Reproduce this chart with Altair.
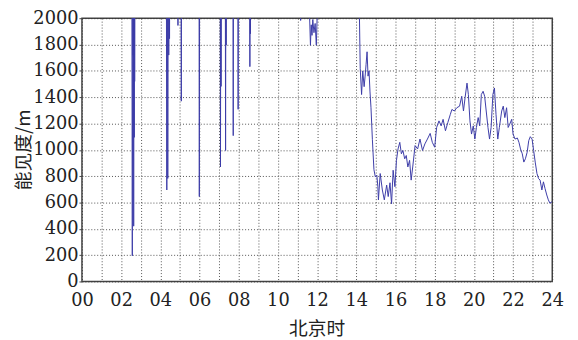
import altair as alt
import pandas as pd

HIGH = 3000  # values above the 2000 m axis limit (clipped)

hours = [
    0.0,
    2.54, 2.57, 2.60, 2.61, 2.62, 2.64, 2.66, 2.67, 2.68, 2.69, 2.71,
    4.30, 4.33, 4.36, 4.38, 4.41, 4.43, 4.45, 4.47, 4.49, 4.51,
    4.88, 4.90, 4.92, 5.05, 5.07, 5.09,
    5.97, 5.99, 6.01,
    7.05, 7.07, 7.09, 7.10, 7.12,
    7.31, 7.33, 7.35, 7.36, 7.38,
    7.70, 7.72, 7.74, 7.95, 7.97, 7.99,
    8.55, 8.57, 8.59, 8.60, 8.62,
    11.13, 11.16, 11.19,
    11.60, 11.62, 11.66, 11.70, 11.74, 11.78, 11.84, 11.90, 11.96, 12.00, 12.05,
    14.06, 14.20, 14.27, 14.33, 14.40, 14.45, 14.50, 14.55, 14.60, 14.65, 14.70,
    14.75, 14.82, 14.90, 14.97,
    15.05, 15.10, 15.13, 15.22, 15.33, 15.43, 15.55, 15.63, 15.72, 15.80, 15.88,
    15.97, 16.05, 16.13, 16.22, 16.30, 16.38, 16.47, 16.55, 16.63, 16.72, 16.80,
    16.88, 17.00, 17.13, 17.25, 17.38, 17.50, 17.63, 17.77, 17.88, 18.00, 18.10,
    18.22, 18.33, 18.43, 18.55, 18.67, 18.80, 18.88, 19.00, 19.13, 19.27, 19.38,
    19.47, 19.55, 19.65, 19.72, 19.80, 19.88, 19.97, 20.05, 20.13, 20.22, 20.30,
    20.38, 20.47, 20.55, 20.63, 20.72, 20.80, 20.88, 20.97, 21.05, 21.13, 21.22,
    21.30, 21.42, 21.50, 21.58, 21.67, 21.75, 21.83, 21.93, 22.00, 22.10, 22.22,
    22.30, 22.38, 22.47, 22.55, 22.63, 22.72, 22.80, 22.88, 22.97, 23.05, 23.13,
    23.22, 23.30, 23.38, 23.47, 23.55, 23.63, 23.72, 23.80, 23.88, 24.00,
]

visibility = [
    HIGH,
    HIGH, 195, HIGH, 1720, HIGH, 420, HIGH, 1095, HIGH, 1520, HIGH,
    HIGH, 695, HIGH, 783, HIGH, 1720, HIGH, 1845, HIGH, HIGH,
    HIGH, 1945, HIGH, HIGH, 1370, HIGH,
    HIGH, 645, HIGH,
    HIGH, 870, HIGH, 1482, HIGH,
    HIGH, 995, HIGH, 1795, HIGH,
    HIGH, 1108, HIGH, HIGH, 1308, HIGH,
    HIGH, 1632, HIGH, 1882, HIGH,
    HIGH, 1983, HIGH,
    HIGH, 2000, 1795, 1950, 1870, 1990, 1890, 1960, 1795, 2000, HIGH,
    HIGH, 1620, 1420, 1600, 1480, 1560, 1650, 1745, 1560, 1600, 1440,
    1320, 1080, 850, 795,
    807, 720, 620, 820, 695, 620, 732, 645, 750, 590, 845,
    720, 920, 1007, 1057, 970, 995, 932, 957, 870, 920, 770,
    870, 1032, 1007, 1082, 995, 1045, 1082, 1125, 1057, 1020, 1170,
    1220, 1182, 1232, 1145, 1207, 1270, 1307, 1295, 1320, 1332, 1407,
    1295, 1395, 1507, 1420, 1220, 1120, 1182, 1082, 1170, 1245, 1182,
    1420, 1445, 1407, 1295, 1170, 1082, 1170, 1420, 1470, 1270, 1082,
    1170, 1295, 1332, 1245, 1320, 1170, 1195, 1232, 1120, 1082, 1090,
    1057, 1007, 970, 907, 932, 982, 1070, 1100, 1082, 995, 907,
    820, 782, 770, 695, 757, 707, 657, 620, 595, 607,
]

x_ticks = list(range(0, 25))
y_ticks = list(range(0, 2001, 200))

df = pd.DataFrame({"hour": hours, "vis": visibility})

LABEL_FONT = "DejaVu Serif"
TITLE_FONT = "Noto Sans CJK SC"

chart = (
    alt.Chart(df)
    .mark_line(color="#3c3ca8", strokeWidth=1, clip=True)
    .encode(
        x=alt.X(
            "hour:Q",
            scale=alt.Scale(domain=[0, 24], nice=False, zero=False),
            axis=alt.Axis(
                values=x_ticks,
                title="北京时",
                labelExpr="datum.value % 2 == 0 ? (datum.value < 10 ? '0' + datum.value : '' + datum.value) : ''",
                labelFont=LABEL_FONT,
                ticks=False,
                domain=False,
                labelPadding=10,
                labelFlush=False,
                titleX=238,
                titleY=48,
                titleBaseline="middle",
            ),
        ),
        y=alt.Y(
            "vis:Q",
            scale=alt.Scale(domain=[0, 2000], nice=False),
            axis=alt.Axis(
                values=y_ticks,
                format="d",
                title="能见度/m",
                labelFont=LABEL_FONT,
                tickSize=3,
                tickColor="#444",
                domain=False,
                labelPadding=1,
                titleX=-59,
                titleY=133,
                titleBaseline="middle",
            ),
        ),
    )
    .properties(
        width=477,
        height=267,
        autosize=alt.AutoSizeParams(type="none"),
        padding={"left": 75, "top": 8, "right": 18, "bottom": 57},
        background="white",
    )
    .configure_axis(
        grid=True,
        gridColor="#333",
        gridDash=[1, 2],
        gridWidth=1,
        gridOpacity=0.85,
        labelFontSize=18,
        labelColor="#222",
        titleFont=TITLE_FONT,
        titleFontSize=19,
        titleFontWeight="normal",
        titleColor="#222",
    )
    .configure_view(stroke="#444", strokeWidth=1.5)
)

chart.save("out.html", embed_options={"renderer": "svg", "actions": False})
